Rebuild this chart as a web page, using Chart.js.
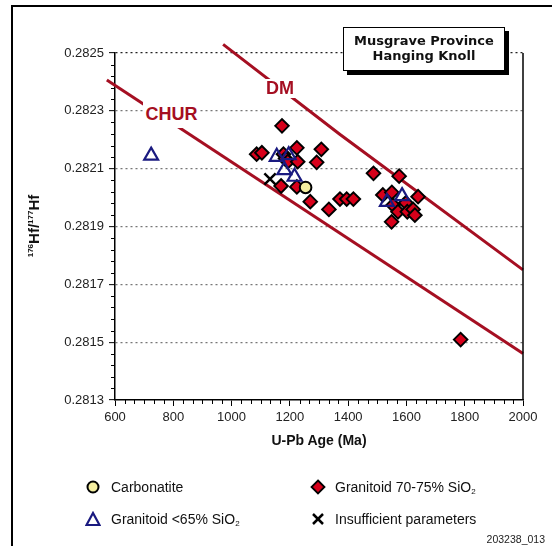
<!DOCTYPE html>
<html><head><meta charset="utf-8">
<script src="https://cdn.jsdelivr.net/npm/chart.js@4.4.1/dist/chart.umd.min.js"></script>
<style>
html,body{margin:0;padding:0;background:#fff;}
#wrap{position:relative;width:552px;height:546px;overflow:hidden;font-family:"Liberation Sans",Arial,sans-serif;color:#111;}
#c{position:absolute;left:0;top:0;}
.frame{position:absolute;left:11px;top:5px;width:700px;height:700px;border-left:2px solid #000;border-top:2px solid #000;box-sizing:border-box;}
.abs{position:absolute;white-space:nowrap;}
.titlebox{position:absolute;left:343px;top:27px;width:160px;height:37px;border:1px solid #000;background:#fff;box-shadow:4px 4px 0 #000;font-family:"DejaVu Sans",Verdana,sans-serif;font-weight:bold;font-size:13px;line-height:15px;text-align:center;padding-top:5px;box-sizing:content-box;}
.lbl{position:absolute;background:#fff;color:#a50f22;font-weight:bold;font-size:18px;font-family:"Liberation Sans",Arial,sans-serif;display:flex;align-items:center;justify-content:center;}
.leg{position:absolute;font-size:14px;line-height:16px;white-space:nowrap;color:#111;}
.leg sub{font-size:8px;vertical-align:-2px;line-height:0;}
.mk{position:absolute;}
</style></head>
<body><div id="wrap">
<canvas id="c" width="552" height="546"></canvas>
<div class="frame"></div>
<div class="titlebox">Musgrave Province<br>Hanging Knoll</div>
<div class="lbl" style="left:143px;top:101px;width:57px;height:27px;">CHUR</div>
<div class="lbl" style="left:263px;top:79px;width:34px;height:19px;">DM</div>
<div class="abs" style="left:319px;top:440px;transform:translate(-50%,-50%);font-weight:bold;font-size:14px;">U-Pb Age (Ma)</div>
<div class="abs" style="left:33px;top:226px;transform:translate(-50%,-50%) rotate(-90deg);font-weight:bold;font-size:15px;"><sup style="font-size:8px;vertical-align:6px;">176</sup>Hf/<sup style="font-size:8px;vertical-align:6px;">177</sup>Hf</div>

<svg class="mk" style="left:85px;top:479px" width="16" height="16"><circle cx="8" cy="8" r="5.5" fill="#f4eea0" stroke="#000" stroke-width="2"/></svg>
<div class="leg" style="left:111px;top:479px">Carbonatite</div>
<svg class="mk" style="left:310px;top:479px" width="16" height="16"><polygon points="8,1.5 14.5,8 8,14.5 1.5,8" fill="#d7001a" stroke="#000" stroke-width="1.8"/></svg>
<div class="leg" style="left:335px;top:479px">Granitoid 70-75% SiO<sub>2</sub></div>
<svg class="mk" style="left:85px;top:511px" width="16" height="16"><polygon points="8,2 14.5,14 1.5,14" fill="#fff" stroke="#1a1a80" stroke-width="2.2"/></svg>
<div class="leg" style="left:111px;top:511px">Granitoid &lt;65% SiO<sub>2</sub></div>
<svg class="mk" style="left:310px;top:511px" width="16" height="16"><line x1="3" y1="3" x2="13" y2="13" stroke="#000" stroke-width="2.5"/><line x1="13" y1="3" x2="3" y2="13" stroke="#000" stroke-width="2.5"/></svg>
<div class="leg" style="left:335px;top:511px">Insufficient parameters</div>
<div class="abs" style="right:7px;top:533px;font-size:10.5px;color:#222;">203238_013</div>
</div>
<script>
// ---- data ----
const xTicks = [600, 800, 1000, 1200, 1400, 1600, 1800, 2000];
const yTicks = [0.2813, 0.2815, 0.2817, 0.2819, 0.2821, 0.2823, 0.2825];

const carbAge = [1254];
const carbHf  = [0.282035];

const graniteHighAge = [1173, 1086, 1104, 1224, 1308, 1178, 1185, 1193, 1227, 1292, 1170, 1224, 1270, 1334, 1372, 1395, 1418,
                        1487, 1575, 1519, 1550, 1640, 1554, 1598, 1571, 1603, 1623, 1629, 1549, 1786];
const graniteHighHf  = [0.282248, 0.28215, 0.282155, 0.282172, 0.282167, 0.28215, 0.282135, 0.282124, 0.282124, 0.282122, 0.28204, 0.282037, 0.281986, 0.281959, 0.281995, 0.281995, 0.281995,
                        0.282084, 0.282074, 0.282009, 0.282018, 0.282003, 0.281974, 0.281982, 0.281951, 0.281951, 0.281959, 0.281939, 0.281916, 0.281509];

const graniteLowAge = [724, 1155, 1196, 1181, 1216, 1533, 1585];
const graniteLowHf  = [0.282145, 0.282141, 0.282147, 0.282095, 0.282072, 0.281985, 0.282005];

const insuffAge = [1132];
const insuffHf  = [0.282064];

const churAge = [572, 2000];
const churHf  = [0.282407, 0.281461];
const dmAge = [971, 1370, 2000];
const dmHf  = [0.28253, 0.28222, 0.28175];

const pts = (xs, ys) => xs.map((x, i) => ({x, y: ys[i]}));

const minorTicks = {
  id: 'minorTicks',
  afterDraw(chart) {
    const {ctx, chartArea: a, scales: {x, y}} = chart;
    ctx.save();
    ctx.strokeStyle = '#000';
    ctx.lineWidth = 1;
    ctx.beginPath();
    for (let i = 0; i < xTicks.length - 1; i++) {
      const step = (xTicks[i + 1] - xTicks[i]) / 6;
      for (let k = 1; k < 6; k++) {
        const px = Math.round(x.getPixelForValue(xTicks[i] + k * step)) + 0.5;
        ctx.moveTo(px, a.bottom); ctx.lineTo(px, a.bottom + 4);
      }
    }
    for (let i = 0; i < yTicks.length - 1; i++) {
      const step = (yTicks[i + 1] - yTicks[i]) / 5;
      for (let k = 1; k < 5; k++) {
        const py = Math.round(y.getPixelForValue(yTicks[i] + k * step)) + 0.5;
        ctx.moveTo(a.left, py); ctx.lineTo(a.left - 4, py);
      }
    }
    ctx.stroke();
    ctx.lineWidth = 1.5;
    ctx.beginPath();
    ctx.moveTo(a.right, a.top); ctx.lineTo(a.right, a.bottom);
    ctx.stroke();
    ctx.restore();
  }
};

const near = (a, b) => Math.abs(a - b) < 1e-9;

new Chart(document.getElementById('c'), {
  type: 'scatter',
  data: {
    datasets: [
      {label: 'CHUR', type: 'line', data: pts(churAge, churHf), borderColor: '#a50f22', borderWidth: 3, pointRadius: 0, fill: false, clip: false, order: 6},
      {label: 'DM', type: 'line', data: pts(dmAge, dmHf), borderColor: '#a50f22', borderWidth: 3, pointRadius: 0, fill: false, clip: false, order: 6},
      {label: 'Granitoid 70-75% SiO2', data: pts(graniteHighAge, graniteHighHf), pointStyle: 'rectRot', pointRadius: 6.8, backgroundColor: '#d7001a', borderColor: '#000', borderWidth: 1.9, order: 5},
      {label: 'Carbonatite', data: pts(carbAge, carbHf), pointStyle: 'circle', pointRadius: 5.8, backgroundColor: '#f4eea0', borderColor: '#000', borderWidth: 2, order: 4},
      {label: 'Insufficient parameters', data: pts(insuffAge, insuffHf), pointStyle: 'crossRot', pointRadius: 8, borderColor: '#000', borderWidth: 2.5, order: 3},
      {label: 'Granitoid <65% SiO2', data: pts(graniteLowAge, graniteLowHf), pointStyle: 'triangle', pointRadius: 8, backgroundColor: 'rgba(0,0,0,0)', borderColor: '#1a1a80', borderWidth: 2.2, order: 2}
    ]
  },
  options: {
    responsive: false,
    animation: false,
    devicePixelRatio: 1,
    layout: {padding: {left: 0, right: 29, top: 53, bottom: 0}},
    plugins: {legend: {display: false}, tooltip: {enabled: false}, title: {display: false}},
    scales: {
      x: {
        type: 'linear', min: 600, max: 2000,
        afterFit(s) { s.height = 146; },
        afterBuildTicks(s) { s.ticks = xTicks.map(v => ({value: v})); },
        ticks: {color: '#222', font: {family: '"Liberation Sans", Arial, sans-serif', size: 13}, padding: 4, maxRotation: 0, autoSkip: false,
                callback: v => String(v)},
        grid: {drawOnChartArea: false, drawTicks: true, tickLength: 6, tickColor: '#000', tickWidth: 1},
        border: {display: true, color: '#000', width: 1.5}
      },
      y: {
        type: 'linear', min: 0.2813, max: 0.2825,
        afterFit(s) { s.width = 115; },
        afterBuildTicks(s) { s.ticks = yTicks.map(v => ({value: v})); },
        ticks: {color: '#222', font: {family: '"Liberation Sans", Arial, sans-serif', size: 13}, padding: 5,
                callback: v => v.toFixed(4)},
        grid: {
          drawOnChartArea: true, drawTicks: true, tickLength: 6, tickColor: '#000', tickWidth: 1, lineWidth: 1.3,
          color: c => (c.tick && near(c.tick.value, 0.2825)) ? '#222' : (c.tick && near(c.tick.value, 0.2813)) ? 'rgba(0,0,0,0)' : '#777'
        },
        border: {display: true, color: '#000', width: 1.5, dash: [2, 3]}
      }
    }
  },
  plugins: [minorTicks]
});
</script>
</body></html>
